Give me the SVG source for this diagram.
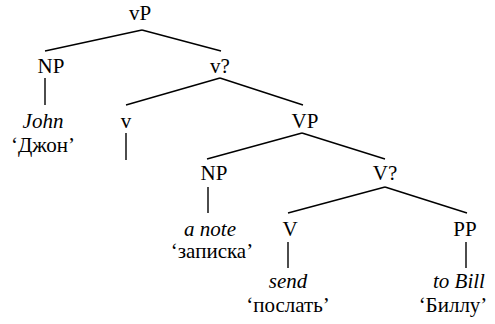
<svg xmlns="http://www.w3.org/2000/svg" width="495" height="324" viewBox="0 0 495 324" font-family="'Liberation Serif', 'Times New Roman', serif" font-size="21">
<rect width="495" height="324" fill="#fff"/>
<g id="edges" stroke="#000" stroke-width="1.4">
<line x1="142" y1="30" x2="45" y2="51"/>
<line x1="142" y1="30" x2="221" y2="51"/>
<line x1="45" y1="78" x2="45" y2="105"/>
<line x1="220" y1="78" x2="126" y2="105"/>
<line x1="220" y1="78" x2="303" y2="105"/>
<line x1="126" y1="133" x2="126" y2="160"/>
<line x1="302" y1="133" x2="207" y2="159"/>
<line x1="302" y1="133" x2="385" y2="159"/>
<line x1="208" y1="187" x2="208" y2="213"/>
<line x1="385" y1="187" x2="288" y2="213"/>
<line x1="385" y1="187" x2="467" y2="213"/>
<line x1="288" y1="242" x2="288" y2="268"/>
<line x1="466" y1="242" x2="466" y2="268"/>
</g>
<g text-anchor="middle" fill="#000">
<g id="vP"><text x="140" y="20">vP</text></g>
<g id="NP1"><text x="51" y="73">NP</text></g>
<g id="John"><text font-style="italic" x="43" y="128">John</text><text x="43" y="152">‘Джон’</text></g>
<g id="vbar"><text x="220" y="73">v?</text></g>
<g id="v"><text x="126" y="128">v</text></g>
<g id="VP"><text x="305" y="128">VP</text></g>
<g id="NP2"><text x="214" y="180">NP</text></g>
<g id="anote"><text font-style="italic" x="210" y="236">a note</text><text x="212" y="258">‘записка’</text></g>
<g id="Vbar"><text x="385" y="180">V?</text></g>
<g id="V"><text x="290" y="236">V</text></g>
<g id="PP"><text x="465" y="236">PP</text></g>
<g id="send"><text font-style="italic" x="288" y="288">send</text><text x="288" y="312">‘послать’</text></g>
<g id="toBill"><text font-style="italic" x="459" y="288">to Bill</text><text x="453" y="312">‘Биллу’</text></g>
</g>
</svg>
